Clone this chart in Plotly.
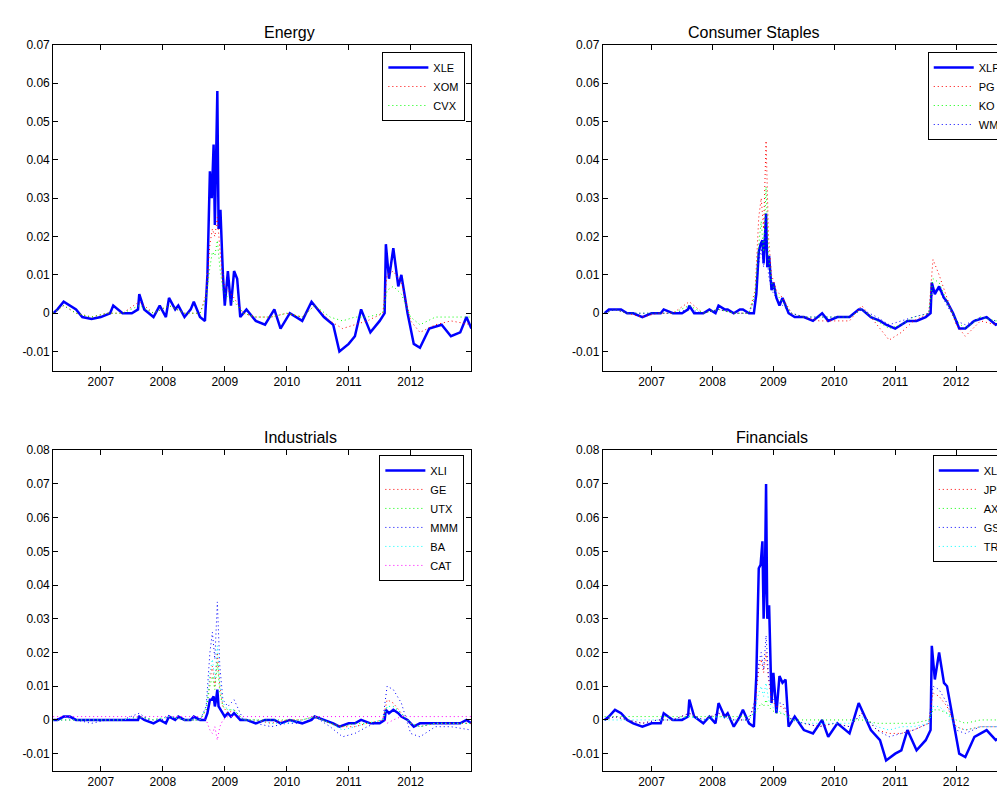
import plotly.graph_objects as go

# shared date grids (decimal years)
dates = [2006.23, 2006.30, 2006.40, 2006.50, 2006.60, 2006.70, 2006.85, 2007.00, 2007.15, 2007.20,
         2007.35, 2007.50, 2007.60, 2007.62, 2007.70, 2007.85, 2007.95, 2008.05, 2008.10, 2008.20,
         2008.25, 2008.35, 2008.45, 2008.50, 2008.60, 2008.68, 2008.72, 2008.76, 2008.79, 2008.82,
         2008.84, 2008.86, 2008.88, 2008.90, 2008.93, 2008.97, 2009.00, 2009.05, 2009.10, 2009.15,
         2009.20, 2009.25, 2009.35, 2009.50, 2009.65, 2009.80, 2009.90, 2010.05, 2010.25, 2010.40,
         2010.45, 2010.60, 2010.75, 2010.85, 2011.00, 2011.10, 2011.20, 2011.35, 2011.50, 2011.58,
         2011.60, 2011.65, 2011.72, 2011.80, 2011.85, 2011.95, 2012.05, 2012.15, 2012.30, 2012.50,
         2012.65, 2012.80, 2012.90, 2012.98]
sub_dates = [2006.23, 2006.40, 2006.60, 2006.85, 2007.10, 2007.35, 2007.62, 2007.85, 2008.10, 2008.35,
             2008.60, 2008.70, 2008.76, 2008.80, 2008.84, 2008.88, 2008.92, 2008.97, 2009.05, 2009.15,
             2009.30, 2009.50, 2009.75, 2010.00, 2010.25, 2010.45, 2010.70, 2010.90, 2011.10, 2011.30,
             2011.55, 2011.62, 2011.72, 2011.85, 2012.00, 2012.15, 2012.40, 2012.65, 2012.98]

# sector ETFs (on dates)
xle = [0.000, 0.001, 0.003, 0.002, 0.001, -0.001, -0.0015, -0.001, 0.000, 0.002,
       0.000, 0.000, 0.001, 0.005, 0.001, -0.001, 0.002, -0.001, 0.004, 0.001,
       0.002, -0.001, 0.001, 0.003, -0.001, -0.002, 0.010, 0.037, 0.030, 0.044,
       0.023, 0.040, 0.058, 0.022, 0.027, 0.010, 0.002, 0.011, 0.002, 0.011,
       0.009, -0.001, 0.001, -0.002, -0.003, 0.001, -0.004, 0.000, -0.002, 0.003,
       0.002, -0.001, -0.003, -0.010, -0.008, -0.006, 0.001, -0.005, -0.002, 0.000,
       0.018, 0.009, 0.017, 0.007, 0.010, 0.000, -0.008, -0.009, -0.004, -0.003,
       -0.006, -0.005, -0.001, -0.004]
xlp = [0.000, 0.001, 0.001, 0.001, 0.000, 0.000, -0.001, 0.000, 0.000, 0.001,
       0.000, 0.000, 0.001, 0.002, 0.000, 0.000, 0.001, 0.000, 0.002, 0.001,
       0.001, 0.000, 0.001, 0.001, 0.000, 0.000, 0.005, 0.016, 0.018, 0.019,
       0.013, 0.022, 0.026, 0.012, 0.015, 0.006, 0.008, 0.004, 0.002, 0.004,
       0.002, 0.000, -0.001, -0.001, -0.002, 0.000, -0.002, -0.001, -0.001, 0.001,
       0.001, -0.001, -0.002, -0.003, -0.004, -0.003, -0.002, -0.002, -0.001, 0.000,
       0.008, 0.005, 0.007, 0.004, 0.003, 0.000, -0.004, -0.004, -0.002, -0.001,
       -0.003, -0.002, -0.002, -0.001]
xli = [0.000, 0.000, 0.001, 0.001, 0.000, 0.000, 0.000, 0.000, 0.000, 0.000,
       0.000, 0.000, 0.000, 0.001, 0.000, -0.001, 0.000, -0.001, 0.001, 0.000,
       0.001, 0.000, 0.000, 0.001, 0.000, 0.000, 0.002, 0.006, 0.006, 0.007,
       0.004, 0.006, 0.009, 0.004, 0.003, 0.002, 0.001, 0.002, 0.001, 0.002,
       0.001, 0.000, 0.000, -0.001, 0.000, 0.000, -0.001, 0.000, -0.001, 0.000,
       0.001, 0.000, -0.001, -0.002, -0.001, -0.001, 0.000, -0.001, -0.001, 0.000,
       0.003, 0.002, 0.003, 0.002, 0.001, 0.000, -0.002, -0.001, -0.001, -0.001,
       -0.001, -0.001, 0.000, -0.001]
xlf = [0.000, 0.001, 0.003, 0.002, 0.000, -0.001, -0.002, -0.001, -0.001, 0.002,
       0.000, 0.000, 0.001, 0.006, 0.001, -0.001, 0.001, -0.001, 0.005, 0.001,
       0.002, -0.002, 0.001, 0.003, -0.001, -0.002, 0.013, 0.045, 0.046, 0.053,
       0.030, 0.040, 0.070, 0.030, 0.034, 0.005, 0.014, 0.002, 0.013, 0.011,
       0.012, -0.002, 0.001, -0.003, -0.004, 0.000, -0.005, -0.001, -0.004, 0.005,
       0.003, -0.003, -0.006, -0.012, -0.010, -0.009, -0.003, -0.009, -0.006, -0.003,
       0.022, 0.012, 0.020, 0.011, 0.010, 0.000, -0.010, -0.011, -0.005, -0.003,
       -0.006, -0.004, -0.003, -0.002]

# member stocks (on sub_dates)
xom = [0.000, 0.002, 0.000, -0.001, 0.000, 0.000, 0.003, 0.000, 0.002, 0.000,
       0.000, 0.005, 0.018, 0.022, 0.020, 0.025, 0.017, 0.008, 0.006, 0.004,
       0.000, -0.001, -0.001, 0.000, -0.001, 0.002, -0.002, -0.004, -0.003, -0.002,
       0.000, 0.010, 0.011, 0.008, -0.002, -0.005, -0.003, -0.002, -0.003]
cvx = [0.000, 0.002, 0.000, -0.001, 0.000, 0.000, 0.002, 0.000, 0.002, 0.000,
       0.000, 0.004, 0.012, 0.016, 0.015, 0.019, 0.012, 0.006, 0.004, 0.003,
       0.000, -0.001, -0.001, 0.000, -0.001, 0.002, -0.001, -0.002, -0.001, -0.001,
       0.000, 0.006, 0.007, 0.005, -0.001, -0.003, -0.001, -0.001, -0.001]
pg = [0.000, 0.001, 0.000, -0.001, 0.000, 0.000, 0.003, 0.000, 0.001, 0.000,
      0.000, 0.006, 0.025, 0.030, 0.022, 0.045, 0.020, 0.010, 0.006, 0.004,
      0.000, -0.001, -0.002, -0.002, -0.002, 0.002, -0.003, -0.007, -0.005, -0.002,
      0.000, 0.014, 0.010, 0.004, -0.003, -0.006, -0.002, -0.003, -0.001]
ko = [0.000, 0.001, 0.000, 0.000, 0.000, 0.000, 0.002, 0.000, 0.001, 0.000,
      0.000, 0.005, 0.018, 0.024, 0.016, 0.033, 0.015, 0.008, 0.005, 0.003,
      0.000, -0.001, -0.001, -0.001, -0.001, 0.001, -0.002, -0.004, -0.003, -0.001,
      0.000, 0.009, 0.008, 0.003, -0.002, -0.004, -0.001, -0.002, -0.001]
wmt = [0.000, 0.001, 0.000, 0.000, 0.000, 0.000, 0.001, 0.000, 0.001, 0.000,
       0.000, 0.004, 0.013, 0.017, 0.012, 0.021, 0.010, 0.006, 0.004, 0.002,
       0.000, -0.001, -0.001, -0.001, -0.001, 0.001, -0.001, -0.003, -0.002, -0.001,
       0.000, 0.006, 0.006, 0.002, -0.002, -0.003, -0.001, -0.002, -0.001]
ge = [0.000, 0.000, 0.000, 0.000, 0.000, 0.000, 0.001, 0.000, 0.001, 0.000,
      0.000, 0.003, 0.012, 0.016, 0.010, 0.020, 0.010, 0.004, 0.002, 0.003,
      0.000, 0.000, -0.001, 0.000, 0.000, 0.001, -0.001, -0.002, -0.002, -0.001,
      0.000, 0.006, 0.005, 0.002, -0.001, -0.002, -0.001, -0.001, -0.001]
utx = [0.000, 0.000, 0.000, 0.000, 0.000, 0.000, 0.001, 0.000, 0.001, 0.000,
       0.000, 0.003, 0.010, 0.013, 0.009, 0.017, 0.008, 0.004, 0.003, 0.003,
       0.000, 0.000, 0.000, 0.000, 0.000, 0.001, -0.001, -0.002, -0.001, -0.001,
       0.000, 0.004, 0.004, 0.002, -0.001, -0.002, -0.001, -0.001, -0.001]
mmm = [0.000, 0.001, 0.000, -0.001, 0.000, 0.000, 0.002, -0.001, 0.001, 0.000,
       0.000, 0.004, 0.020, 0.026, 0.018, 0.035, 0.016, 0.006, 0.004, 0.006,
       0.000, -0.001, -0.002, -0.001, -0.001, 0.001, -0.002, -0.005, -0.004, -0.002,
       0.000, 0.010, 0.009, 0.005, -0.004, -0.005, -0.002, -0.002, -0.003]
ba = [0.000, 0.000, 0.000, 0.000, 0.000, 0.000, 0.001, 0.000, 0.001, 0.000,
      0.000, 0.004, 0.014, 0.018, 0.012, 0.022, 0.011, 0.005, 0.003, 0.003,
      0.000, 0.000, -0.001, -0.001, 0.000, 0.001, -0.001, -0.003, -0.002, -0.001,
      0.000, 0.004, 0.004, 0.002, -0.001, -0.002, -0.001, -0.001, -0.001]
cat = [0.001, 0.001, 0.001, 0.001, 0.001, 0.001, 0.001, 0.001, 0.001, 0.001,
       0.001, 0.000, -0.003, -0.004, -0.002, -0.006, -0.002, 0.000, 0.001, 0.001,
       0.001, 0.001, 0.001, 0.001, 0.001, 0.001, 0.001, 0.001, 0.001, 0.001,
       0.001, -0.001, 0.000, 0.001, 0.001, 0.001, 0.001, 0.001, 0.001]
jpm = [0.000, 0.001, 0.000, -0.001, 0.000, 0.000, 0.002, 0.000, 0.002, 0.000,
       0.000, 0.005, 0.015, 0.018, 0.014, 0.020, 0.012, 0.006, 0.004, 0.004,
       0.000, -0.001, -0.002, -0.001, -0.002, 0.002, -0.003, -0.004, -0.004, -0.003,
       -0.001, 0.008, 0.007, 0.004, -0.002, -0.003, -0.002, -0.002, -0.002]
axp = [0.001, 0.001, 0.001, 0.001, 0.001, 0.001, 0.001, 0.001, 0.001, 0.001,
       0.001, 0.002, 0.004, 0.005, 0.004, 0.006, 0.004, 0.003, 0.002, 0.002,
       0.000, 0.000, 0.000, 0.000, 0.000, 0.000, -0.001, -0.001, -0.001, -0.001,
       0.000, 0.003, 0.003, 0.002, 0.000, -0.001, 0.000, 0.000, -0.001]
gs = [0.000, 0.001, 0.000, -0.001, 0.000, 0.000, 0.002, 0.000, 0.002, 0.000,
      0.000, 0.006, 0.017, 0.020, 0.015, 0.025, 0.013, 0.007, 0.005, 0.005,
      0.000, -0.001, -0.002, -0.001, -0.002, 0.002, -0.003, -0.005, -0.004, -0.003,
      -0.001, 0.010, 0.009, 0.005, -0.003, -0.004, -0.002, -0.002, -0.002]
trv = [0.000, 0.000, 0.000, 0.000, 0.000, 0.000, 0.001, 0.000, 0.001, 0.000,
       0.000, 0.003, 0.008, 0.010, 0.007, 0.011, 0.006, 0.004, 0.003, 0.002,
       0.000, -0.001, -0.001, -0.001, -0.001, 0.001, -0.002, -0.003, -0.002, -0.002,
       -0.001, 0.004, 0.004, 0.002, -0.002, -0.003, -0.002, -0.002, -0.002]

year_ticks = [2007, 2008, 2009, 2010, 2011, 2012]
top_yticks = [-0.01, 0, 0.01, 0.02, 0.03, 0.04, 0.05, 0.06, 0.07]
bot_yticks = [-0.01, 0, 0.01, 0.02, 0.03, 0.04, 0.05, 0.06, 0.07, 0.08]

DOT_COLORS = ['#ff0000', '#00ff00', '#0000ff', '#00ffff', '#ff00ff']
FONT = 'Liberation Sans, Arial, sans-serif'

panels = [
    # title, etf name, etf values, members, x domain, y domain, x range, y ticks, legend pos, title x
    ('Energy', 'XLE', xle, [('XOM', xom), ('CVX', cvx)],
     [0.045, 0.462], [0.548, 0.962], [2006.23, 2012.98], top_yticks, (0.456, 0.953, 'right'), 0.253),
    ('Consumer Staples', 'XLP', xlp, [('PG', pg), ('KO', ko), ('WMT', wmt)],
     [0.593, 1.0], [0.548, 0.962], [2006.2, 2012.9], top_yticks, (0.917, 0.953, 'left'), 0.812),
    ('Industrials', 'XLI', xli, [('GE', ge), ('UTX', utx), ('MMM', mmm), ('BA', ba), ('CAT', cat)],
     [0.045, 0.462], [0.040, 0.447], [2006.23, 2012.98], bot_yticks, (0.455, 0.441, 'right'), 0.253),
    ('Financials', 'XLF', xlf, [('JPM', jpm), ('AXP', axp), ('GS', gs), ('TRV', trv)],
     [0.593, 1.0], [0.040, 0.447], [2006.2, 2012.9], bot_yticks, (0.922, 0.441, 'left'), 0.80),
]

fig = go.Figure()
layout = {}

for i, (title, etf, vals, members, xdom, ydom, xrng, yticks, leg, tx) in enumerate(panels):
    n = i + 1
    xa = 'x' if n == 1 else f'x{n}'
    ya = 'y' if n == 1 else f'y{n}'
    lg = 'legend' if n == 1 else f'legend{n}'

    fig.add_trace(go.Scatter(x=dates, y=vals, name=etf, mode='lines',
                             line=dict(color='#0000ff', width=2.5),
                             xaxis=xa, yaxis=ya, legend=lg))
    for (name, mv), col in zip(members, DOT_COLORS):
        fig.add_trace(go.Scatter(x=sub_dates, y=mv, name=name, mode='lines',
                                 line=dict(color=col, width=1, dash='1px,3px'),
                                 xaxis=xa, yaxis=ya, legend=lg))

    axis_style = dict(showline=True, linecolor='black', linewidth=1, mirror='ticks',
                      ticks='inside', ticklen=5, tickcolor='black', showgrid=False,
                      zeroline=False, tickfont=dict(size=12, color='black'))
    layout['xaxis' if n == 1 else f'xaxis{n}'] = dict(
        domain=xdom, anchor=ya, range=xrng, tickvals=year_ticks,
        ticktext=[str(y) for y in year_ticks], **axis_style)
    layout['yaxis' if n == 1 else f'yaxis{n}'] = dict(
        domain=ydom, anchor=xa, range=[-0.015, yticks[-1]], tickvals=yticks,
        ticktext=['%g' % t for t in yticks], **axis_style)
    layout[lg] = dict(x=leg[0], y=leg[1], xanchor=leg[2], yanchor='top',
                      bgcolor='white', bordercolor='black', borderwidth=1,
                      font=dict(size=11, color='black'), tracegroupgap=0,
                      itemwidth=40)
    fig.add_annotation(text=title, xref='paper', yref='paper', x=tx,
                       y=ydom[1], yanchor='bottom', yshift=2, showarrow=False,
                       font=dict(size=16, color='black'))

fig.update_layout(**layout)
fig.update_layout(width=1005, height=794, margin=dict(l=0, r=0, t=0, b=0),
                  paper_bgcolor='white', plot_bgcolor='white',
                  font=dict(family=FONT, color='black'))

fig.write_html("out.html")
